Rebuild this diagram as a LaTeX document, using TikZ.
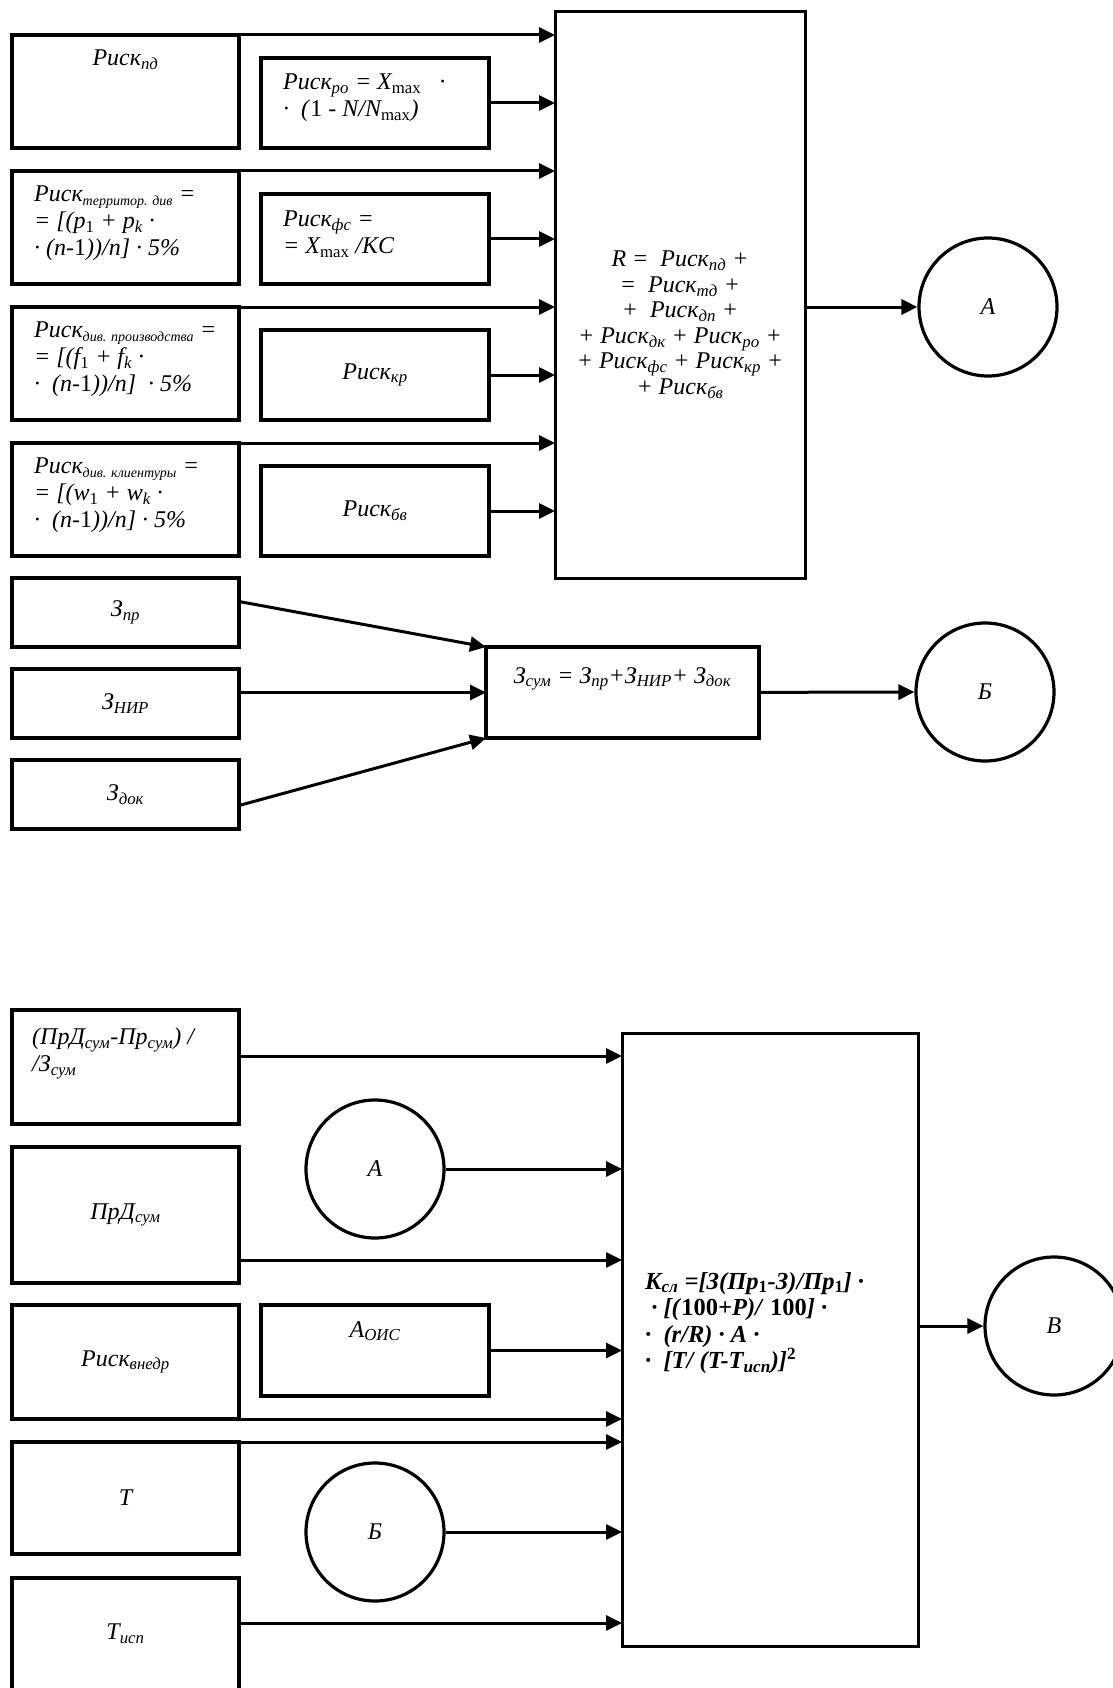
\documentclass[tikz,border=0pt]{standalone}
\usepackage{fontspec}
\setmainfont{Liberation Serif}
\usetikzlibrary{arrows.meta,positioning,calc}
\newcommand{\rsub}[1]{\textsubscript{#1}}
\newcommand{\rsubsm}[1]{\textsubscript{\fontsize{14}{14}\selectfont #1}}
\newcommand{\ru}[1]{\textup{#1}}
\tikzset{
  every node/.style={font=\fontsize{24}{27}\selectfont\itshape},
  blk/.style={draw, line width=3.4pt, inner sep=0pt, outer sep=0pt, anchor=north west},
  lbox/.style={blk, minimum width=227pt, minimum height=113pt},
  rbox/.style={blk, minimum width=228pt, minimum height=90pt},
  zbox/.style={blk, minimum width=227pt, minimum height=69pt},
  bigbox/.style={blk, line width=3pt},
  ring/.style={draw, circle, line width=3.2pt, minimum size=138pt, inner sep=0pt},
  toptxt/.style={anchor=north west, inner sep=0pt, align=left},
  midtxt/.style={anchor=north, inner sep=0pt, align=center},
  arr/.style={-{Triangle[length=16pt, width=15pt]}, line width=3pt}
}
\begin{document}
\begin{tikzpicture}[x=1pt, y=-1pt]
  \useasboundingbox (0,0) rectangle (1112,1688);
  % risk block
  \node[lbox] (pd) at (12,35) {};
  \node[lbox, below=23pt of pd] (terr) {};
  \node[lbox, below=23pt of terr] (prod) {};
  \node[lbox, below=23pt of prod] (cli) {};
  \node[rbox, above right=0pt and 22pt of pd.south east] (ro) {};
  \node[rbox, above right=0pt and 22pt of terr.south east] (fs) {};
  \node[rbox, above right=0pt and 22pt of prod.south east] (kr) {Риск\rsub{кр}};
  \node[rbox, above right=0pt and 22pt of cli.south east] (bv) {Риск\rsub{бв}};
  \node[bigbox, minimum width=250pt, minimum height=566pt] (R) at (555,12) {};
  \node[ring] (A) at (988,307) {А};

  \node[midtxt, below=15pt of pd.north] (pd-t) {Риск\rsub{пд}};
  \node[toptxt, below right=16pt and 22pt of ro.north west] (ro-t)
    {Риск\rsub{ро} = X\rsub{\ru{max}} ~~·\\ · ~(\ru{1} - N/N\rsub{\ru{max}})};
  \node[toptxt, below right=15pt and 22pt of terr.north west] (terr-t)
    {Риск\rsubsm{территор. див} =\\= [(p\rsub{\ru{1}} + p\rsub{k} ·\\· (n-\ru{1}))/n] · 5\%};
  \node[toptxt, below right=17pt and 22pt of fs.north west] (fs-t)
    {Риск\rsub{фс} =\\= X\rsub{\ru{max}} /KC};
  \node[toptxt, below right=15pt and 22pt of prod.north west] (prod-t)
    {Риск\rsubsm{див. производства} =\\= [(f\rsub{\ru{1}} + f\rsub{k} ·\\· ~(n-\ru{1}))/n] ~· 5\%};
  \node[toptxt, below right=15pt and 22pt of cli.north west] (cli-t)
    {Риск\rsubsm{див. клиентуры} =\\= [(w\rsub{\ru{1}} + w\rsub{k} ·\\· ~(n-\ru{1}))/n] · 5\%};
  \node[midtxt, font=\fontsize{24}{25.5}\selectfont\itshape, below=239pt of R.north] (R-t)
    {R = ~Риск\rsub{пд} +\\= ~Риск\rsub{тд} +\\+ ~Риск\rsub{дп} +\\+ Риск\rsub{дк} + Риск\rsub{ро} +\\+ Риск\rsub{фс} + Риск\rsub{кр} +\\+ Риск\rsub{бв}};

  \draw[arr] (pd.north east) -- (pd.north east -| R.west);
  \draw[arr] (ro) -- (ro -| R.west);
  \draw[arr] (terr.north east) -- (terr.north east -| R.west);
  \draw[arr] (fs) -- (fs -| R.west);
  \draw[arr] (prod.north east) -- (prod.north east -| R.west);
  \draw[arr] (kr) -- (kr -| R.west);
  \draw[arr] (cli.north east) -- (cli.north east -| R.west);
  \draw[arr] (bv) -- (bv -| R.west);
  \draw[arr] (R.east |- A) -- (A);

  % costs block
  \node[zbox] (zpr) at (12,578) {З\rsub{пр}};
  \node[zbox, below=22pt of zpr] (znir) {З\rsub{НИР}};
  \node[zbox, below=22pt of znir] (zdok) {З\rsub{док}};
  \node[blk, minimum width=273pt, minimum height=91pt] (zsum) at (486,647) {};
  \node[midtxt, below=20pt of zsum.north] (zsum-t)
    {З\rsub{сум} = З\rsub{пр}+З\rsub{НИР}+ З\rsub{док}};
  \node[ring] (B) at (985,692) {Б};
  \coordinate (zpr-o) at ([yshift=11pt]zpr.east);
  \coordinate (zdok-o) at ([yshift=-11pt]zdok.east);

  \draw[arr] (zpr-o) -- (zsum.north west);
  \draw[arr] (znir.east |- zsum) -- (zsum.west);
  \draw[arr] (zdok-o) -- (zsum.south west);
  \draw[arr] (zsum) -- (B);

  % coefficient block
  \node[lbox, minimum height=114pt] (gain) at (12,1010) {};
  \node[toptxt, below right=18pt and 20pt of gain.north west] (gain-t)
    {(ПрД\rsub{сум}-Пр\rsub{сум}) /\\/З\rsub{сум}};
  \node[lbox, minimum height=136pt, below=23pt of gain] (prd) {ПрД\rsub{сум}};
  \node[lbox, minimum height=114pt, below=22pt of prd] (rvn) {Риск\rsub{внедр}};
  \node[lbox, minimum height=112pt, below=23pt of rvn] (T) {T};
  \node[lbox, minimum height=112pt, below=24pt of T] (Tisp) {T\rsub{исп}};
  \node[ring] (A2) at (375,1169) {А};
  \node[rbox, minimum height=91pt, below right=0pt and 22pt of rvn.north east] (aois) {};
  \node[midtxt, below=16pt of aois.north] (aois-t) {А\rsub{ОИС}};
  \node[ring] (B2) at (375,1532) {Б};
  \node[bigbox, minimum width=296pt, minimum height=613pt] (K) at (622,1033) {};
  \node[toptxt, font=\fontsize{24.5}{26.5}\selectfont\bfseries\itshape] (K-t) at (645,1272)
    {K\rsub{сл} =[З(Пр\rsub{\ru{1}}-З)/Пр\rsub{\ru{1}}] ·\\
     ~· [(\ru{100}+P)/ \ru{100}] ·\\
     · ~(r/R) · A ·\\
     · ~[T/ (T-T\rsub{исп})]\textsuperscript{\ru{2}}};
  \node[ring] (V) at (1054,1326) {В};
  \coordinate (gain-o) at ([yshift=11pt]gain.east);
  \coordinate (prd-o) at ([yshift=23pt]prd.south east);
  \coordinate (tisp-o) at ([yshift=11pt]Tisp.east);

  \draw[arr] (gain-o) -- (gain-o -| K.west);
  \draw[arr] (A2) -- (A2 -| K.west);
  \draw[arr] (prd-o) -- (prd-o -| K.west);
  \draw[arr] (aois) -- (aois -| K.west);
  \draw[arr] (rvn.south east) -- (rvn.south east -| K.west);
  \draw[arr] (T.north east) -- (T.north east -| K.west);
  \draw[arr] (B2) -- (B2 -| K.west);
  \draw[arr] (tisp-o) -- (tisp-o -| K.west);
  \draw[arr] (K.east |- V) -- (V);
\end{tikzpicture}
\end{document}
